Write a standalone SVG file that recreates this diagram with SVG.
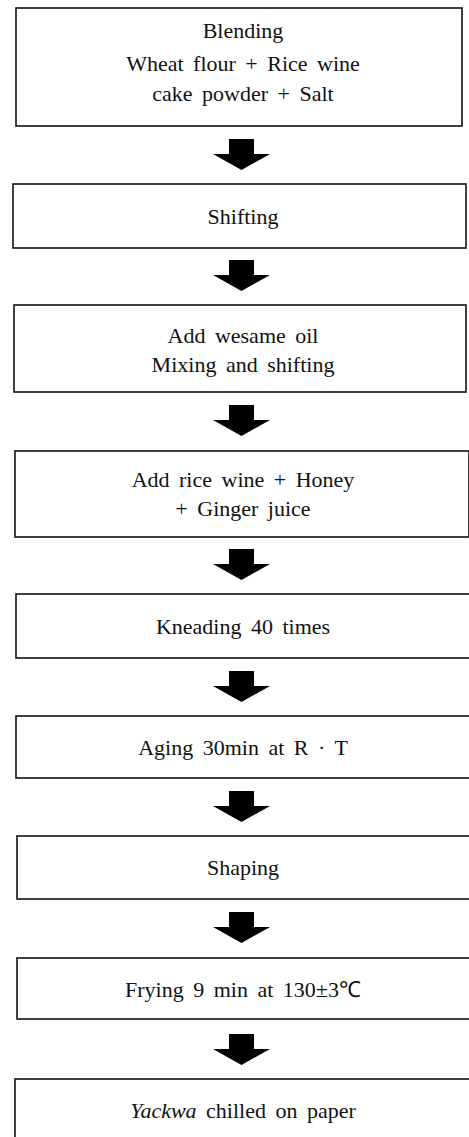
<svg xmlns="http://www.w3.org/2000/svg" width="469" height="1137" viewBox="0 0 469 1137">
<style>
.box{fill:#fff;stroke:#111;stroke-width:1.6}
.t{font-family:"Liberation Serif","Times New Roman",serif;font-size:22px;fill:#111;text-anchor:middle;word-spacing:4px}
.arr{fill:#000}
</style>
<defs>
<path id="arrow" d="M-12,0 H13 V15 H29 L0.5,31 L-28,15 H-12 Z"/>
</defs>
<rect width="469" height="1137" fill="#fff"/>
<g id="n1"><rect class="box" x="16" y="8" width="446" height="118"/>
<text class="t" x="243" y="38">Blending</text>
<text class="t" x="243" y="71">Wheat flour + Rice wine</text>
<text class="t" x="243" y="101">cake powder + Salt</text></g>
<g id="n2"><rect class="box" x="13" y="184" width="453" height="64"/>
<text class="t" x="243" y="224">Shifting</text></g>
<g id="n3"><rect class="box" x="14" y="305" width="452" height="87"/>
<text class="t" x="243" y="343">Add wesame oil</text>
<text class="t" x="243" y="372">Mixing and shifting</text></g>
<g id="n4"><rect class="box" x="15" y="451" width="454" height="86"/>
<text class="t" x="243" y="487">Add rice wine + Honey</text>
<text class="t" x="243" y="516">+ Ginger juice</text></g>
<g id="n5"><rect class="box" x="16" y="594" width="454" height="64"/>
<text class="t" x="243" y="634">Kneading 40 times</text></g>
<g id="n6"><rect class="box" x="16" y="716" width="454" height="62"/>
<text class="t" x="243" y="755">Aging 30min at R · T</text></g>
<g id="n7"><rect class="box" x="17" y="836" width="453" height="63"/>
<text class="t" x="243" y="875">Shaping</text></g>
<g id="n8"><rect class="box" x="17" y="958" width="453" height="61"/>
<text class="t" x="243" y="997">Frying 9 min at 130±3℃</text></g>
<g id="n9"><rect class="box" x="15" y="1079" width="455" height="70"/>
<text class="t" x="243" y="1118"><tspan font-style="italic">Yackwa</tspan> chilled on paper</text></g>
<g id="connectors" class="arr">
<use href="#arrow" x="241" y="139"/>
<use href="#arrow" x="241" y="260"/>
<use href="#arrow" x="241" y="405"/>
<use href="#arrow" x="241" y="549"/>
<use href="#arrow" x="241" y="671"/>
<use href="#arrow" x="241" y="791"/>
<use href="#arrow" x="241" y="912"/>
<use href="#arrow" x="241" y="1034"/>
</g>
</svg>
